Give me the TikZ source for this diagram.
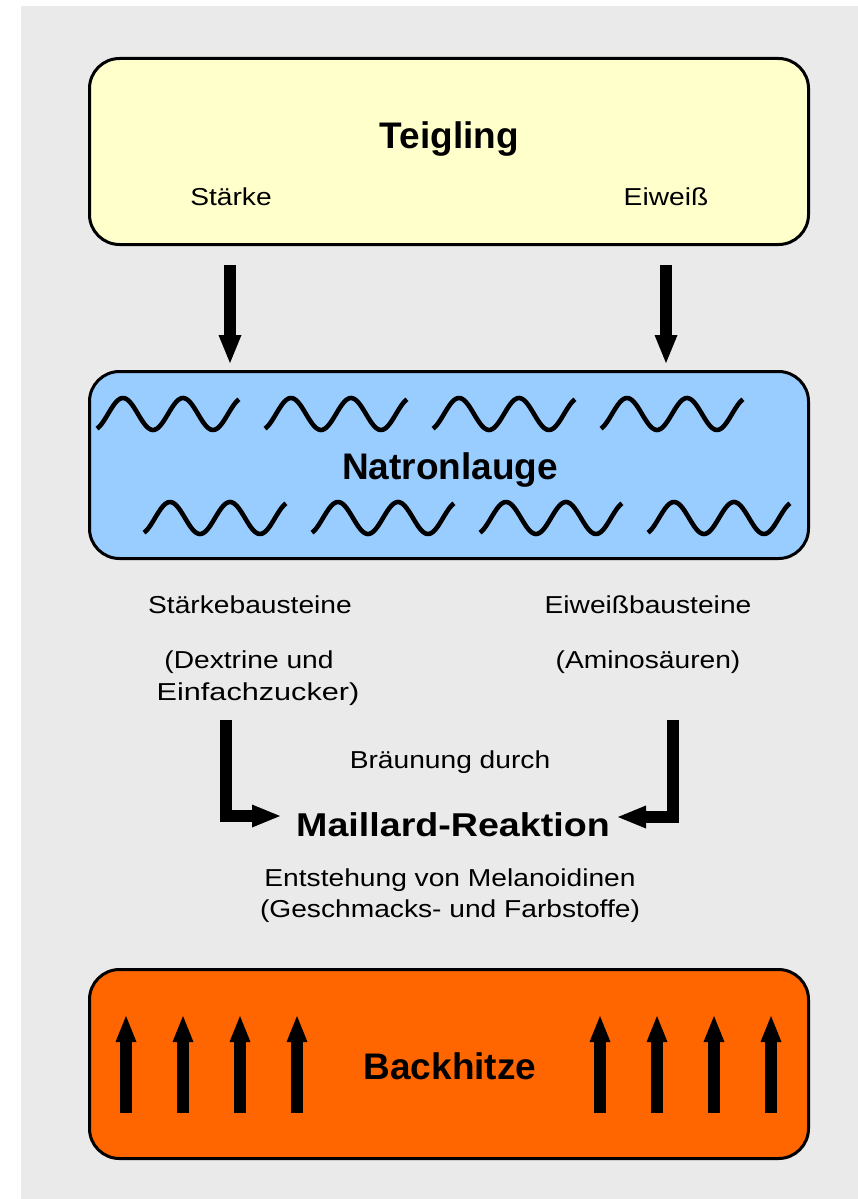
\documentclass[tikz,border=0pt]{standalone}
\usepackage{fontspec}
\setmainfont{Liberation Sans}
\newfontfamily\regf[FakeStretch=1.15]{Liberation Sans}
\newfontfamily\widef[FakeStretch=1.25]{Liberation Sans}
\newfontfamily\maillf[FakeStretch=1.14]{Liberation Sans}
\usetikzlibrary{arrows.meta}
\definecolor{bggray}{RGB}{234,234,234}
\definecolor{doughyellow}{RGB}{255,255,204}
\definecolor{lyeblue}{RGB}{153,204,255}
\definecolor{heatorange}{RGB}{255,102,0}
\tikzset{
  box/.style={draw=black, line width=3pt, rounded corners=30pt, minimum width=719pt, inner sep=0pt},
  bigtitle/.style={anchor=base, inner sep=0pt, font=\fontsize{37}{41}\selectfont\bfseries},
  reg/.style={anchor=base, inner sep=0pt, font=\fontsize{24.5}{31}\selectfont\regf},
  fatarrow/.style={line width=12pt, line join=miter, -{Triangle[width=23pt,length=28pt,line width=0pt]}},
  wave/.style={line width=4.6pt, line cap=butt, line join=round}
}
\newcommand{\onewave}[2]{%
  \draw[wave] plot[domain=-66:786, samples=80, smooth] ({#1+(\x+66)/6}, {#2-16*sin(\x)});}
\begin{document}
\begin{tikzpicture}[x=1pt,y=-1pt]
\useasboundingbox (0,0) rectangle (858,1199);
\fill[bggray] (21,6) rectangle (858,1199);

% boxes
\node[box, fill=doughyellow, minimum height=186pt] (teig) at (449,151.5) {};
\node[box, fill=lyeblue, minimum height=187pt] (natron) at (449,465) {};
\node[box, fill=heatorange, minimum height=189pt] (back) at (449,1064) {};

% Teigling
\node[bigtitle] (teigt) at (449.5,148) {Teigling};
\node[reg] (staerke) at (231,205) {Stärke};
\node[reg] (eiweiss) at (666,205) {Eiweiß};

% down arrows
\coordinate (d1s) at (230,265);
\coordinate (d1e) at (230,363);
\coordinate (d2s) at (666,265);
\coordinate (d2e) at (666,363);
\draw[fatarrow] (d1s) -- (d1e);
\draw[fatarrow] (d2s) -- (d2e);

% waves
\foreach \s in {97,265,433,601} {\onewave{\s}{414}}
\foreach \s in {144,312,480,648} {\onewave{\s}{518}}
\node[bigtitle] (natront) at (450,479) {Natronlauge};

% building blocks
\node[reg] (sbb) at (250,613) {Stärkebausteine};
\node[reg] (dex1) at (249,668) {(Dextrine und};
\node[anchor=base, inner sep=0pt, font=\fontsize{24.5}{31}\selectfont\widef] (dex2) at (258,700) {Einfachzucker)};
\node[reg] (ebb) at (648,613) {Eiweißbausteine};
\node[reg] (amino) at (648,668) {(Aminosäuren)};

% Maillard
\node[reg] (braeun) at (450,768) {Bräunung durch};
\node[anchor=base, inner sep=0pt, font=\fontsize{33}{38}\selectfont\maillf\bfseries] (maill) at (453,836) {Maillard-Reaktion};
\coordinate (l1) at (225.5,720);
\coordinate (l2) at (280,816);
\coordinate (r1) at (672.5,720);
\coordinate (r2) at (618,817);
\draw[fatarrow] (l1) |- (l2);
\draw[fatarrow] (r1) |- (r2);

\node[reg, align=center, anchor=north] (melan) at (450,869) {Entstehung von Melanoidinen\\(Geschmacks- und Farbstoffe)};

% Backhitze
\node[bigtitle] (backt) at (450,1079) {Backhitze};
\foreach \xx in {126,183,240,297,600,657,714,771} {
  \coordinate (ua\xx) at (\xx,1113);
  \coordinate (ub\xx) at (\xx,1016);
  \draw[fatarrow, -{Triangle[width=21pt,length=26pt,line width=0pt]}] (ua\xx) -- (ub\xx);
}
\end{tikzpicture}
\end{document}
